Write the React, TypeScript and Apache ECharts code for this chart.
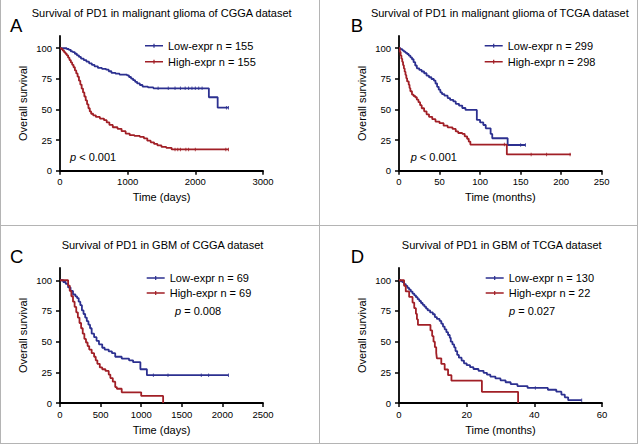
import React, { useEffect, useRef } from 'react';
import * as echarts from 'echarts';

const BLUE = '#2c3090';
const RED = '#a11f26';
const FONT = '"Liberation Sans", Arial, Helvetica, sans-serif';

// ---- Panel A: malignant glioma, CGGA (days) ----
const aLow: [number, number][] = [
  [0, 100], [70, 100], [100, 99.4], [130, 98.7], [160, 97.4], [190, 96.8], [220, 95.5], [250, 94.2],
  [280, 92.9], [310, 91.6], [350, 90.3], [390, 89], [430, 87.7], [470, 86.5], [510, 85.2], [560, 83.9],
  [620, 83.2], [680, 82.5], [720, 81.2], [760, 79.9], [820, 79.2], [880, 78.5], [990, 77.8], [1020, 76.5],
  [1050, 75.2], [1080, 73.9], [1110, 72.6], [1140, 71.3], [1180, 70], [1220, 68.7], [1300, 68], [1380, 67.3],
  [2200, 60], [2330, 51.5], [2490, 51.5],
];
const aHigh: [number, number][] = [
  [0, 100], [20, 99.4], [40, 98.1], [60, 96.8], [80, 95.5], [100, 94.2], [120, 92.3], [140, 90.3],
  [160, 88.4], [180, 86.5], [200, 84.5], [220, 81.9], [240, 79.4], [260, 76.8], [280, 73.5], [300, 70.3],
  [320, 67.1], [340, 63.9], [360, 60.6], [380, 57.4], [400, 54.2], [420, 51], [440, 48.4], [460, 46.5],
  [490, 45.2], [530, 43.9], [590, 42.6], [650, 41.3], [690, 39.4], [730, 37.4], [780, 35.5], [850, 34.2],
  [910, 32.3], [970, 30.3], [1030, 29], [1100, 28.4], [1180, 27.7], [1240, 26.4], [1290, 24.5], [1340, 23.2],
  [1390, 21.9], [1440, 20.6], [1500, 19.4], [1570, 18.7], [1650, 17.4], [2490, 17.4],
];
const aLowCens = [1450, 1600, 1700, 1780, 1850, 1900, 1950, 2000, 2050, 2100, 2460, 2490];
const aHighCens = [1700, 1740, 1780, 1860, 1900, 2000, 2450, 2490];

// ---- Panel B: malignant glioma, TCGA (months) ----
const bLow: [number, number][] = [
  [0, 100], [2, 99.3], [4, 98.3], [6, 97.3], [8, 96.3], [10, 95.3], [12, 94], [14, 92.6], [16, 91],
  [18, 88.6], [20, 85.9], [22, 83.6], [25, 82.3], [28, 81], [31, 79.6], [34, 77.6], [37, 76.3], [40, 74.9],
  [43, 73.6], [45, 71.2], [47, 68.5], [49, 66.2], [51, 64], [53, 62.6], [56, 61.3], [60, 59.3], [63, 57.9],
  [67, 56.6], [70, 54.6], [74, 53.2], [78, 51.2], [82, 49.6], [96, 41.5], [100, 39.4], [104, 37.3],
  [107, 34.6], [113, 30], [115, 26.5], [134, 21], [156, 21],
];
const bHigh: [number, number][] = [
  [0, 100], [1, 97], [2, 94], [3, 91.5], [4, 88.9], [5, 86.2], [6, 83.5], [7, 80.9], [8, 78.2], [9, 75.5],
  [10, 72.9], [12, 70.2], [13, 67.5], [14, 64.9], [16, 62.2], [18, 61], [20, 60], [22, 58], [24, 56],
  [26, 53.5], [28, 51], [31, 48.5], [34, 46], [37, 44], [41, 42.1], [45, 40.1], [50, 38.8], [55, 36.8],
  [60, 35.4], [66, 34.1], [70, 32.1], [73, 30.8], [78, 30.1], [81, 28.1], [84, 26.1], [86, 23.8], [88, 21.3],
  [133, 13.3], [212, 13.3],
];
const bLowCens = [150, 156];
const bHighCens = [130, 163, 182, 211];

// ---- Panel C: GBM, CGGA (days) ----
const cLow: [number, number][] = [
  [0, 100], [40, 98.6], [70, 97.1], [100, 94.2], [130, 91.3], [160, 88.4], [190, 86.9], [210, 85.5],
  [230, 82.6], [250, 79.7], [270, 75.4], [290, 72.5], [310, 69.6], [330, 66.7], [350, 63.8], [370, 60.9],
  [390, 56.5], [420, 53.6], [450, 50.7], [480, 47.8], [520, 45], [550, 43.5], [600, 42], [640, 40.6],
  [680, 37.7], [760, 36.2], [850, 34.8], [900, 33.3], [990, 27.5], [1070, 22.7], [2075, 22.7],
];
const cHigh: [number, number][] = [
  [0, 100], [80, 100], [100, 95.7], [120, 91.3], [140, 87], [160, 82.6], [180, 78.3], [200, 73.9],
  [220, 69.6], [240, 65.2], [260, 60.9], [280, 56.5], [300, 52.2], [320, 49.3], [340, 46.4], [360, 43.5],
  [390, 40.6], [420, 37.7], [440, 34.8], [460, 31.9], [490, 29], [520, 27.5], [560, 26.1], [600, 23.2],
  [620, 20.3], [650, 17.4], [680, 13], [700, 11.6], [760, 8.7], [1000, 5.8], [1270, 0],
];
const cLowCens = [1150, 1330, 1740, 1830, 2075];
const cHighCens: number[] = [];

// ---- Panel D: GBM, TCGA (months) ----
const dLow: [number, number][] = [
  [0, 100], [0.5, 99.2], [1, 98.5], [1.5, 96.9], [2, 95.4], [2.5, 93.8], [3, 92.3], [3.5, 90.8], [4, 89.2],
  [4.5, 87.7], [5, 86.2], [5.5, 84.6], [6, 83.1], [6.5, 81.5], [7, 80], [7.5, 78.5], [8, 76.9], [8.5, 75.4],
  [9.2, 73.8], [10, 72.3], [10.6, 70], [11.2, 68.5], [12, 66.9], [12.5, 64.6], [13, 62.3], [13.5, 60],
  [14, 57.7], [14.5, 55.4], [15, 53.1], [15.3, 50], [15.8, 47.7], [16.3, 45.4], [16.7, 42.3], [17.2, 39.2],
  [17.7, 36.9], [18.5, 34.6], [19.2, 32.3], [20, 30.8], [21, 29.2], [22, 27.7], [23.5, 26.2], [25, 24.6],
  [26, 23.1], [27, 21.5], [28.5, 20], [30, 18.5], [31.5, 16.9], [33, 15.4], [35, 13.8], [38, 12.3],
  [44, 10.8], [46.5, 9.2], [48, 6.9], [49, 4.6], [50, 2.3], [54, 2.3],
];
const dHigh: [number, number][] = [
  [0, 100], [1.5, 95.5], [2, 90.9], [3, 86.4], [4, 81.8], [4.5, 77.3], [5, 72.7], [5.3, 68.2], [5.6, 63.6],
  [9.3, 59.1], [9.8, 54.5], [10.2, 50], [10.6, 45.5], [11, 40.9], [11.2, 36.4], [12.5, 31.8], [13.5, 27.3],
  [14.5, 22.7], [15.5, 18.2], [24.5, 9.1], [35.2, 0],
];
const dLowCens = [40.3, 54];
const dHighCens: number[] = [];

const yTickValues = [0, 25, 50, 75, 100];

const survAt = (curve: [number, number][], t: number) => {
  let s = curve[0][1];
  for (const [x, y] of curve) {
    if (x <= t) s = y;
    else break;
  }
  return s;
};

const panels = [
  {
    letter: 'A', title: 'Survival of PD1 in malignant glioma of CGGA dataset',
    low: aLow, high: aHigh, lowCens: aLowCens, highCens: aHighCens,
    lowName: 'Low-expr n = 155', highName: 'High-expr n = 155',
    xMax: 3000, xInterval: 1000, xName: 'Time (days)', p: '{i|p} < 0.001',
    grid: { left: 60, top: 36, width: 203, height: 134.7 },
    titleXY: [161.7, 13], letterXY: [10, 25.5], legendXY: [145, 38.7], legendGap: 2, pXY: [70, 156.7],
  },
  {
    letter: 'B', title: 'Survival of PD1 in malignant glioma of TCGA dataset',
    low: bLow, high: bHigh, lowCens: bLowCens, highCens: bHighCens,
    lowName: 'Low-expr n = 299', highName: 'High-expr n = 298',
    xMax: 250, xInterval: 50, xName: 'Time (months)', p: '{i|p} < 0.001',
    grid: { left: 399, top: 36, width: 202.7, height: 134.7 },
    titleXY: [499.8, 13.3], letterXY: [350.7, 25.5], legendXY: [484.7, 38.7], legendGap: 2, pXY: [410.7, 156.7],
  },
  {
    letter: 'C', title: 'Survival of PD1 in GBM of CGGA dataset',
    low: cLow, high: cHigh, lowCens: cLowCens, highCens: cHighCens,
    lowName: 'Low-expr n = 69', highName: 'High-expr n = 69',
    xMax: 2500, xInterval: 500, xName: 'Time (days)', p: '{i|p} = 0.008',
    grid: { left: 60, top: 268, width: 203, height: 135 },
    titleXY: [162.5, 245.3], letterXY: [10, 256], legendXY: [146.7, 271], legendGap: 1, pXY: [175, 311.3],
  },
  {
    letter: 'D', title: 'Survival of PD1 in GBM of TCGA dataset',
    low: dLow, high: dHigh, lowCens: dLowCens, highCens: dHighCens,
    lowName: 'Low-expr n = 130', highName: 'High-expr n = 22',
    xMax: 60, xInterval: 20, xName: 'Time (months)', p: '{i|p} = 0.027',
    grid: { left: 399, top: 268, width: 203, height: 135 },
    titleXY: [501.7, 245.3], letterXY: [350.7, 256], legendXY: [485.7, 271], legendGap: 1, pXY: [509, 311.3],
  },
];

const LEGEND_ICON = 'path://M0,2.2H18V3.8H0Z M8.4,1H9.6V5H8.4Z';

function buildOption() {
  const grid: any[] = [];
  const xAxis: any[] = [];
  const yAxis: any[] = [];
  const series: any[] = [];
  const legend: any[] = [];
  const graphic: any[] = [];

  panels.forEach((p, i) => {
    grid.push({ ...p.grid, containLabel: false });
    xAxis.push({
      type: 'value', gridIndex: i, min: 0, max: p.xMax, interval: p.xInterval,
      axisLine: { show: true, onZero: false, lineStyle: { color: '#000', width: 1.8 } },
      axisTick: { show: true, length: 4, lineStyle: { color: '#000', width: 1.5 } },
      axisLabel: { fontSize: 9.5, color: '#000', margin: 6, fontFamily: FONT, formatter: (v: number) => String(v) },
      splitLine: { show: false },
      name: p.xName, nameLocation: 'middle', nameGap: 21,
      nameTextStyle: { fontSize: 11, color: '#000', fontFamily: FONT },
    });
    yAxis.push({
      type: 'value', gridIndex: i, min: 0, max: 110,
      axisLine: { show: true, onZero: false, lineStyle: { color: '#000', width: 1.8 } },
      axisTick: { show: true, length: 4, lineStyle: { color: '#000', width: 1.5 }, customValues: yTickValues },
      axisLabel: {
        fontSize: 9.5, color: '#000', margin: 8, fontFamily: FONT, customValues: yTickValues,
        formatter: (v: number) => String(v),
      },
      splitLine: { show: false },
      name: 'Overall survival', nameLocation: 'middle', nameGap: 32, nameRotate: 90,
      nameTextStyle: { fontSize: 11, color: '#000', fontFamily: FONT },
    });
    const curves = [
      { name: p.lowName, data: p.low, cens: p.lowCens, color: BLUE },
      { name: p.highName, data: p.high, cens: p.highCens, color: RED },
    ];
    curves.forEach((c) => {
      series.push({
        type: 'line', name: c.name, xAxisIndex: i, yAxisIndex: i, step: 'end',
        data: c.data, showSymbol: false, symbol: 'none',
        lineStyle: { color: c.color, width: 1.8 }, itemStyle: { color: c.color },
        z: 3,
      });
      series.push({
        type: 'scatter', name: c.name + ' censored', xAxisIndex: i, yAxisIndex: i,
        data: c.cens.map((t) => [t, survAt(c.data, t)]),
        symbol: 'rect', symbolSize: [1, 3.5], itemStyle: { color: c.color }, z: 4,
      });
    });
    legend.push({
      data: [p.lowName, p.highName], orient: 'vertical', left: p.legendXY[0], top: p.legendXY[1],
      padding: 0, itemGap: p.legendGap, itemWidth: 18, itemHeight: 6, icon: LEGEND_ICON,
      textStyle: { fontSize: 11, color: '#000', fontFamily: FONT, lineHeight: 14 },
      selectedMode: false,
    });
    graphic.push({
      type: 'text', x: p.titleXY[0], y: p.titleXY[1],
      style: { text: p.title, fontSize: 11, fontFamily: FONT, fill: '#000', align: 'center', verticalAlign: 'middle' },
    });
    graphic.push({
      type: 'text', x: p.letterXY[0], y: p.letterXY[1],
      style: { text: p.letter, fontSize: 18.5, fontFamily: FONT, fill: '#000', align: 'left', verticalAlign: 'middle' },
    });
    graphic.push({
      type: 'text', x: p.pXY[0], y: p.pXY[1],
      style: {
        text: p.p, fontSize: 11, fontFamily: FONT, fill: '#000', align: 'left', verticalAlign: 'middle',
        rich: { i: { fontStyle: 'italic', fontSize: 11, fontFamily: FONT, fill: '#000' } },
      },
    });
  });

  const frame = { stroke: '#b4b4b4', lineWidth: 1 };
  graphic.push(
    { type: 'line', shape: { x1: 0.5, y1: 0, x2: 0.5, y2: 443 }, style: frame },
    { type: 'line', shape: { x1: 637.5, y1: 0, x2: 637.5, y2: 443 }, style: frame },
    { type: 'line', shape: { x1: 0, y1: 443.5, x2: 638, y2: 443.5 }, style: frame },
    { type: 'line', shape: { x1: 319.5, y1: 0, x2: 319.5, y2: 443 }, style: frame },
    { type: 'line', shape: { x1: 0, y1: 225.5, x2: 638, y2: 225.5 }, style: frame },
  );

  return {
    animation: false,
    backgroundColor: '#fff',
    textStyle: { fontFamily: FONT },
    grid, xAxis, yAxis, series, legend, graphic,
  };
}

export default function App() {
  const ref = useRef<HTMLDivElement>(null);
  useEffect(() => {
    if (!ref.current) return;
    const chart = echarts.init(ref.current, undefined, { renderer: 'svg' });
    chart.setOption(buildOption() as any);
    return () => chart.dispose();
  }, []);
  return (
    <div
      ref={ref}
      style={{ position: 'absolute', left: 0, top: 0, width: 639, height: 445, background: '#fff' }}
    />
  );
}
